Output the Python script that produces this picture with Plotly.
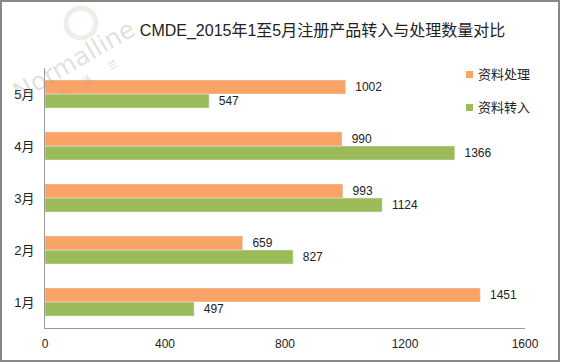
import plotly.graph_objects as go

months = ["1月", "2月", "3月", "4月", "5月"]
transfer_in = [497, 827, 1124, 1366, 547]      # 资料转入
processed = [1451, 659, 993, 990, 1002]        # 资料处理
x_ticks = [0, 400, 800, 1200, 1600]
legend_names = ["资料处理", "资料转入"]
legend_colors = ["#F9A366", "#9BBB59"]

W, H = 561, 364
ml, mr, mt, mb = 45, 36, 68, 36
pw, ph = W - ml - mr, H - mt - mb

def px(x):
    return (x - ml) / pw

def py(y):
    return (H - mb - y) / ph

font_fam = "Liberation Sans, Arial, Noto Sans CJK SC, sans-serif"

fig = go.Figure()
fig.add_trace(go.Bar(
    y=months, x=transfer_in, orientation="h", name="资料转入",
    marker_color="#9BBB59", texttemplate="  %{x}", textposition="outside",
    textfont=dict(size=12, color="#222"), cliponaxis=False,
))
fig.add_trace(go.Bar(
    y=months, x=processed, orientation="h", name="资料处理",
    marker_color="#F9A366", texttemplate="  %{x}", textposition="outside",
    textfont=dict(size=12, color="#222"), cliponaxis=False,
))

fig.update_layout(
    width=W, height=H,
    margin=dict(l=ml, r=mr, t=mt, b=mb),
    paper_bgcolor="white", plot_bgcolor="white",
    barmode="group", bargap=0.46, bargroupgap=0,
    font=dict(family=font_fam, size=12, color="#222"),
    title=dict(text="CMDE_2015年1至5月注册产品转入与处理数量对比",
               x=0.575, xanchor="center", y=1 - 30 / H, yanchor="middle",
               font=dict(size=16, color="#222", family=font_fam)),
    showlegend=False,
    xaxis=dict(range=[0, 1600], tickvals=x_ticks, showgrid=False,
               zeroline=False, showline=True, linecolor="#999", linewidth=1,
               ticks="", tickfont=dict(size=12, color="#222"), ticklabelstandoff=5),
    yaxis=dict(categoryorder="array", categoryarray=months, showgrid=False,
               showline=True, linecolor="#999", linewidth=1, ticks="",
               tickfont=dict(size=13, color="#222"), ticklabelstandoff=7),
)

# legend drawn manually (small squares next to text)
for i, (name, col) in enumerate(zip(legend_names, legend_colors)):
    yc = 74 + i * 33
    fig.add_shape(type="rect", xref="paper", yref="paper",
                  x0=px(466), x1=px(473), y0=py(yc + 4), y1=py(yc - 3),
                  line=dict(width=0), fillcolor=col)
    fig.add_annotation(xref="paper", yref="paper", x=px(476), y=py(yc),
                       text=name, showarrow=False, xanchor="left", yanchor="middle",
                       font=dict(size=13, color="#222"))

# outer frame
fig.add_shape(type="rect", xref="paper", yref="paper",
              x0=px(1), x1=px(559), y0=py(361), y1=py(1),
              line=dict(color="#888", width=2), fillcolor="rgba(0,0,0,0)", layer="below")

# faint watermark
fig.add_shape(type="circle", xref="paper", yref="paper",
              x0=px(66), x1=px(96), y0=py(38), y1=py(8),
              line=dict(color="rgba(170,190,160,0.25)", width=5), fillcolor="rgba(0,0,0,0)",
              layer="below")
fig.add_annotation(xref="paper", yref="paper", x=px(74), y=py(60),
                   text="Normalline", showarrow=False, textangle=-30,
                   xanchor="center", yanchor="middle",
                   font=dict(size=25, color="rgba(150,165,140,0.32)", family="DejaVu Sans"))
fig.add_annotation(xref="paper", yref="paper", x=px(87), y=py(80),
                   text="诺　　沃　　兰", showarrow=False, textangle=-32,
                   xanchor="center", yanchor="middle",
                   font=dict(size=10, color="rgba(150,170,140,0.4)", family="Noto Sans CJK SC"))

fig.write_html("out.html", config={"displayModeBar": False},
               post_script="document.body.style.margin='0';document.body.style.overflow='hidden';document.documentElement.style.overflow='hidden';")
